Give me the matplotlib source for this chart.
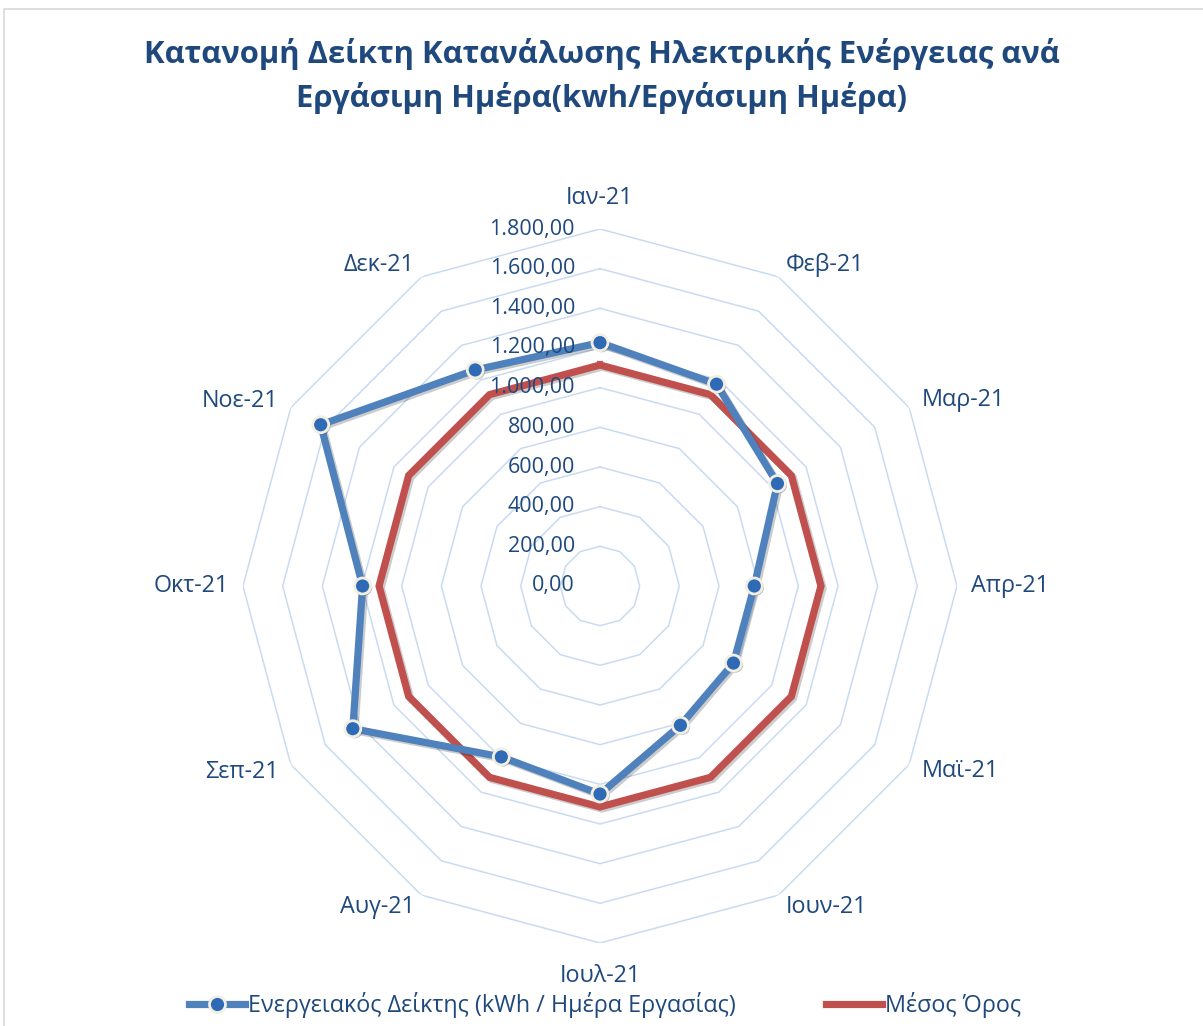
import numpy as np
import matplotlib
matplotlib.use("Agg")
import matplotlib.pyplot as plt
from matplotlib import patheffects as pe
from matplotlib.patches import Rectangle
from matplotlib.lines import Line2D

plt.rcParams['font.family'] = ['Open Sans', 'DejaVu Sans']

# ---- data ----
months = ["Ιαν-21", "Φεβ-21", "Μαρ-21", "Απρ-21", "Μαϊ-21", "Ιουν-21",
          "Ιουλ-21", "Αυγ-21", "Σεπ-21", "Οκτ-21", "Νοε-21", "Δεκ-21"]
energy_index = [1227, 1175, 1033, 778, 777, 811, 1049, 995, 1439, 1197, 1626, 1258]
mean_values = [1114, 1114, 1114, 1114, 1114, 1114, 1114, 1114, 1114, 1114, 1114, 1114]
radial_ticks = [0, 200, 400, 600, 800, 1000, 1200, 1400, 1600, 1800]
radial_labels = ["0,00", "200,00", "400,00", "600,00", "800,00", "1.000,00",
                 "1.200,00", "1.400,00", "1.600,00", "1.800,00"]
title = "Κατανομή Δείκτη Κατανάλωσης Ηλεκτρικής Ενέργειας ανά\nΕργάσιμη Ημέρα(kwh/Εργάσιμη Ημέρα)"
series_names = ["Ενεργειακός Δείκτης (kWh / Ημέρα Εργασίας)", "Μέσος Όρος"]

TXT = "#1F497D"
BLUE = "#4F81BD"
MARK = "#2E6AB5"
RED = "#C0504D"
GRID = "#C9DBF0"

W, H = 1203, 1026
fig = plt.figure(figsize=(W / 100, H / 100), dpi=100)
fig.patch.set_facecolor("white")

# outer chart border
fig.patches.append(Rectangle((4 / W, -0.01), 1.02, 1 - 9 / H + 0.01,
                             transform=fig.transFigure, fill=False,
                             edgecolor="#D9D9D9", linewidth=1.2))

cx, cy, R = 600, 586, 357
ax = fig.add_axes([(cx - R) / W, (H - cy - R) / H, 2 * R / W, 2 * R / H],
                  projection="polar")
ax.set_theta_zero_location("N")
ax.set_theta_direction(-1)
ax.set_ylim(0, 1800)
ax.grid(False)
ax.spines["polar"].set_visible(False)
ax.set_xticks([])
ax.set_yticks([])
ax.patch.set_alpha(0)

n = len(months)
angles = np.linspace(0, 2 * np.pi, n, endpoint=False)
ang_c = np.concatenate([angles, angles[:1]])

# polygon gridlines
for lvl in radial_ticks[1:]:
    ax.plot(ang_c, [lvl] * (n + 1), color=GRID, lw=1.1, zorder=1)

# radial labels
for lvl, lab in zip(radial_ticks, radial_labels):
    ax.annotate(lab, xy=(0, lvl), xytext=(-18, 0), textcoords="offset points",
                ha="right", va="center", fontsize=15.5, color=TXT, zorder=5)

# category labels
px = 1800 / R
for a, lab in zip(angles, months):
    s, c = np.sin(a), np.cos(a)
    if abs(s) < 0.1:
        ha = "center"
        r = 1800 + (31 if c > 0 else 33) * px
    else:
        ha = "left" if s > 0 else "right"
        r = 1800 + 14 * px
    ax.text(a, r, lab, ha=ha, va="center", fontsize=16.8, color=TXT)

shadow = [pe.SimpleLineShadow(offset=(1.5, -1.5), alpha=0.2, shadow_color="black"),
          pe.Normal()]

ax.plot(ang_c, mean_values + mean_values[:1], color=RED, lw=5.2, zorder=3,
        solid_joinstyle="miter", path_effects=shadow)
ax.plot(ang_c, energy_index + energy_index[:1], color=BLUE, lw=5.2, zorder=4,
        solid_joinstyle="miter", path_effects=shadow)
ax.plot(angles, energy_index, ls="none", marker="o", ms=11.5,
        markerfacecolor=MARK, markeredgecolor="#F2EFE2", markeredgewidth=2,
        zorder=6, path_effects=[pe.SimplePatchShadow(offset=(1.2, -1.2), alpha=0.3),
                                pe.Normal()])

fig.text(0.5, 1 - 76 / H, title, ha="center", va="center", fontsize=22.3,
         fontweight="bold", color=TXT, linespacing=1.45)

handles = [Line2D([], [], color=BLUE, lw=5.2, marker="o", ms=11.5,
                  markerfacecolor=MARK, markeredgecolor="#F2EFE2", markeredgewidth=2),
           Line2D([], [], color=RED, lw=5.2)]
fig.legend(handles, series_names, loc="center", bbox_to_anchor=(605 / W, 1 - 1005 / H),
           ncol=2, frameon=False, fontsize=16.8, labelcolor=TXT, handlelength=2.4,
           handletextpad=0.12, columnspacing=3.9, numpoints=1)

fig.savefig("out.png", dpi=100)
